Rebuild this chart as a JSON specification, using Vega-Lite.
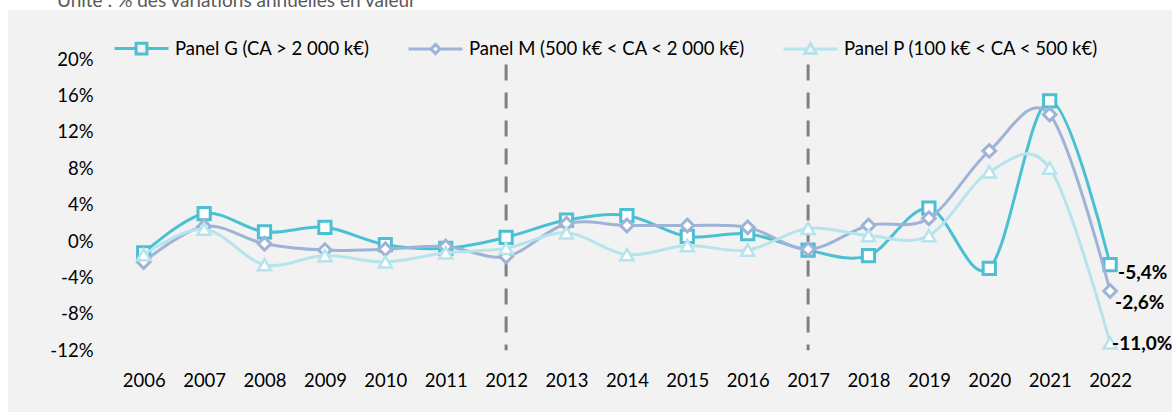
{
  "$schema": "https://vega.github.io/schema/vega-lite/v6.json",
  "width": 1164,
  "height": 402,
  "autosize": {"type": "none"},
  "padding": {"left": 8, "top": 10, "right": 0, "bottom": 0},
  "background": "white",
  "config": {
    "view": {"fill": "#F2F2F2", "stroke": null},
    "font": "Lato"
  },
  "title": {
    "text": "Unité : % des variations annuelles en valeur",
    "anchor": "start",
    "orient": "top",
    "frame": "group",
    "baseline": "bottom",
    "offset": -20,
    "dx": 49,
    "font": "Lato",
    "fontSize": 19,
    "fontWeight": "normal",
    "color": "#595959"
  },
  "datasets": {
    "s": [
      {"code": "G", "year": 2006, "v": -1.3},
      {"code": "G", "year": 2007, "v": 3.0},
      {"code": "G", "year": 2008, "v": 1.0},
      {"code": "G", "year": 2009, "v": 1.5},
      {"code": "G", "year": 2010, "v": -0.4},
      {"code": "G", "year": 2011, "v": -0.8},
      {"code": "G", "year": 2012, "v": 0.4},
      {"code": "G", "year": 2013, "v": 2.3},
      {"code": "G", "year": 2014, "v": 2.8},
      {"code": "G", "year": 2015, "v": 0.5},
      {"code": "G", "year": 2016, "v": 0.8},
      {"code": "G", "year": 2017, "v": -1.0},
      {"code": "G", "year": 2018, "v": -1.6},
      {"code": "G", "year": 2019, "v": 3.6},
      {"code": "G", "year": 2020, "v": -3.0},
      {"code": "G", "year": 2021, "v": 15.4},
      {"code": "G", "year": 2022, "v": -2.6, "label": "-5,4%"},
      {"code": "M", "year": 2006, "v": -2.3},
      {"code": "M", "year": 2007, "v": 1.6},
      {"code": "M", "year": 2008, "v": -0.3},
      {"code": "M", "year": 2009, "v": -1.0},
      {"code": "M", "year": 2010, "v": -0.9},
      {"code": "M", "year": 2011, "v": -0.6},
      {"code": "M", "year": 2012, "v": -1.7},
      {"code": "M", "year": 2013, "v": 1.9},
      {"code": "M", "year": 2014, "v": 1.7},
      {"code": "M", "year": 2015, "v": 1.7},
      {"code": "M", "year": 2016, "v": 1.5},
      {"code": "M", "year": 2017, "v": -0.9},
      {"code": "M", "year": 2018, "v": 1.7},
      {"code": "M", "year": 2019, "v": 2.5},
      {"code": "M", "year": 2020, "v": 9.9},
      {"code": "M", "year": 2021, "v": 13.9},
      {"code": "M", "year": 2022, "v": -5.5, "label": "-2,6%"},
      {"code": "P", "year": 2006, "v": -1.5},
      {"code": "P", "year": 2007, "v": 1.3},
      {"code": "P", "year": 2008, "v": -2.6},
      {"code": "P", "year": 2009, "v": -1.6},
      {"code": "P", "year": 2010, "v": -2.3},
      {"code": "P", "year": 2011, "v": -1.3},
      {"code": "P", "year": 2012, "v": -0.8},
      {"code": "P", "year": 2013, "v": 0.9},
      {"code": "P", "year": 2014, "v": -1.5},
      {"code": "P", "year": 2015, "v": -0.5},
      {"code": "P", "year": 2016, "v": -1.0},
      {"code": "P", "year": 2017, "v": 1.4},
      {"code": "P", "year": 2018, "v": 0.6},
      {"code": "P", "year": 2019, "v": 0.6},
      {"code": "P", "year": 2020, "v": 7.6},
      {"code": "P", "year": 2021, "v": 8.0},
      {"code": "P", "year": 2022, "v": -11.2, "label": "-11,0%"}
    ],
    "grid": [{"v": -12}, {"v": -8}, {"v": -4}, {"v": 4}, {"v": 8}, {"v": 12}, {"v": 16}, {"v": 20}],
    "breaks": [{"year": 2012, "v": 19.4, "v2": -12}, {"year": 2017, "v": 19.4, "v2": -12}],
    "legend": []
  },
  "encoding": {
    "x": {
      "field": "year",
      "type": "quantitative",
      "scale": {"domain": [2003.753, 2023.025], "nice": false, "zero": false},
      "axis": {
        "title": null,
        "values": [2006, 2007, 2008, 2009, 2010, 2011, 2012, 2013, 2014, 2015, 2016, 2017, 2018, 2019, 2020, 2021, 2022],
        "format": "d",
        "domain": false,
        "ticks": false,
        "grid": false,
        "labelFont": "Lato",
        "labelFontSize": 18.5,
        "labelColor": "#000000",
        "labelBaseline": "middle",
        "labelPadding": 0,
        "labelOverlap": false,
        "offset": -32
      }
    },
    "y": {
      "field": "v",
      "type": "quantitative",
      "scale": {"domain": [-18.79, 25.385], "nice": false, "zero": false},
      "axis": {
        "title": null,
        "values": [-12, -8, -4, 0, 4, 8, 12, 16, 20],
        "labelExpr": "datum.value + '%'",
        "domain": false,
        "ticks": false,
        "grid": false,
        "labelFont": "Lato",
        "labelFontSize": 18.5,
        "labelColor": "#000000",
        "labelPadding": 0,
        "labelOverlap": false,
        "offset": -85
      }
    }
  },
  "layer": [
    {
      "data": {"name": "grid"},
      "mark": {"type": "rule", "color": "#D9D9D9", "strokeWidth": 1.5},
      "encoding": {"x": {"datum": 2005.5}, "x2": {"datum": 2022.5}}
    },
    {
      "data": {"values": [{"v": 0}]},
      "mark": {"type": "rule", "color": "#4BC0D2", "strokeWidth": 1.5},
      "encoding": {"x": {"datum": 2005.5}, "x2": {"datum": 2022.5}}
    },
    {
      "data": {"name": "breaks"},
      "mark": {"type": "rule", "color": "#808080", "strokeWidth": 3, "strokeDash": [16, 12]},
      "encoding": {"y2": {"field": "v2"}}
    },
    {
      "data": {"name": "s"},
      "transform": [{"filter": "datum.code == 'G'"}],
      "mark": {"type": "line", "interpolate": "cardinal", "color": "#4BC0D2", "strokeWidth": 3},
      "encoding": {}
    },
    {
      "data": {"name": "s"},
      "transform": [{"filter": "datum.code == 'G'"}],
      "mark": {"type": "point", "shape": "square", "filled": true, "fill": "white", "stroke": "#4BC0D2", "strokeWidth": 3, "size": 150, "opacity": 1},
      "encoding": {}
    },
    {
      "data": {"name": "s"},
      "transform": [{"filter": "datum.code == 'M'"}],
      "mark": {"type": "line", "interpolate": "cardinal", "color": "#9FB3D7", "strokeWidth": 3},
      "encoding": {}
    },
    {
      "data": {"name": "s"},
      "transform": [{"filter": "datum.code == 'M'"}],
      "mark": {"type": "point", "shape": "diamond", "filled": true, "fill": "white", "stroke": "#9FB3D7", "strokeWidth": 3, "size": 160, "opacity": 1},
      "encoding": {}
    },
    {
      "data": {"name": "s"},
      "transform": [{"filter": "datum.code == 'P'"}],
      "mark": {"type": "line", "interpolate": "cardinal", "color": "#B6E4EC", "strokeWidth": 3},
      "encoding": {}
    },
    {
      "data": {"name": "s"},
      "transform": [{"filter": "datum.code == 'P'"}],
      "mark": {"type": "point", "shape": "triangle-up", "filled": true, "fill": "white", "stroke": "#B6E4EC", "strokeWidth": 2.5, "size": 170, "opacity": 1},
      "encoding": {}
    },
    {
      "data": {"name": "s"},
      "transform": [{"filter": "datum.code == 'G' && isValid(datum.label)"}],
      "mark": {"type": "text", "align": "left", "baseline": "middle", "dx": 8, "dy": 8, "font": "Lato", "fontSize": 19, "fontWeight": "bold", "color": "#000000"},
      "encoding": {"text": {"field": "label"}}
    },
    {
      "data": {"name": "s"},
      "transform": [{"filter": "datum.code == 'M' && isValid(datum.label)"}],
      "mark": {"type": "text", "align": "left", "baseline": "middle", "dx": 5, "dy": 12, "font": "Lato", "fontSize": 19, "fontWeight": "bold", "color": "#000000"},
      "encoding": {"text": {"field": "label"}}
    },
    {
      "data": {"name": "s"},
      "transform": [{"filter": "datum.code == 'P' && isValid(datum.label)"}],
      "mark": {"type": "text", "align": "left", "baseline": "middle", "dx": 2, "dy": 1, "font": "Lato", "fontSize": 19, "fontWeight": "bold", "color": "#000000"},
      "encoding": {"text": {"field": "label"}}
    },
    {
      "data": {"name": "legend"},
      "mark": {"type": "point", "filled": false, "size": 2916, "strokeWidth": 3},
      "encoding": {
        "stroke": {
          "field": "serie",
          "type": "nominal",
          "scale": {
            "domain": ["Panel G (CA > 2 000 k€)", "Panel M (500 k€ < CA < 2 000 k€)", "Panel P (100 k€ < CA < 500 k€)"],
            "range": ["#4BC0D2", "#9FB3D7", "#B6E4EC"]
          },
          "legend": {
            "orient": "none", "legendX": 105, "legendY": 10, "direction": "horizontal", "title": null,
            "labelFont": "Lato", "labelFontSize": 18.5, "labelColor": "#000000", "labelLimit": 500,
            "labelOffset": 5, "columnPadding": 32, "symbolSize": 2916, "symbolStrokeWidth": 3,
            "symbolFillColor": "white", "symbolOpacity": 1
          }
        },
        "shape": {
          "field": "serie",
          "type": "nominal",
          "scale": {
            "domain": ["Panel G (CA > 2 000 k€)", "Panel M (500 k€ < CA < 2 000 k€)", "Panel P (100 k€ < CA < 500 k€)"],
            "range": [
              "M-1,0L-0.2,0M0.2,0L1,0M-0.2,-0.2L0.2,-0.2L0.2,0.2L-0.2,0.2Z",
              "M-1,0L-0.17,0M0.17,0L1,0M-0.17,0L0,-0.17L0.17,0L0,0.17Z",
              "M-1,0L-0.12,0M0.12,0L1,0M0,-0.2L0.22,0.17L-0.22,0.17Z"
            ]
          },
          "legend": {
            "orient": "none", "legendX": 105, "legendY": 10, "direction": "horizontal", "title": null,
            "labelFont": "Lato", "labelFontSize": 18.5, "labelColor": "#000000", "labelLimit": 500,
            "labelOffset": 5, "columnPadding": 32, "symbolSize": 2916, "symbolStrokeWidth": 3,
            "symbolFillColor": "white", "symbolOpacity": 1
          }
        }
      }
    }
  ]
}
